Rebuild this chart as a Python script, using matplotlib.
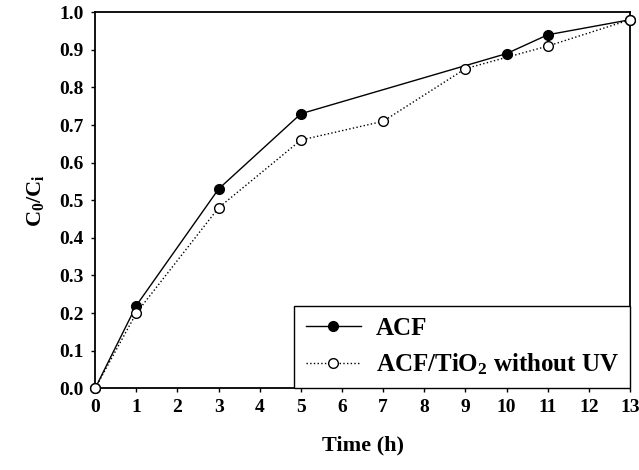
import matplotlib
matplotlib.use("Agg")
import matplotlib.pyplot as plt

plt.rcParams["font.family"] = ["Liberation Serif", "DejaVu Serif"]
plt.rcParams["font.weight"] = "bold"
plt.rcParams["mathtext.fontset"] = "custom"
plt.rcParams["mathtext.rm"] = "Liberation Serif:bold"
plt.rcParams["mathtext.it"] = "Liberation Serif:bold"
plt.rcParams["mathtext.bf"] = "Liberation Serif:bold"

# ACF alone (filled circles)
acf_t = [0, 1, 3, 5, 10, 11, 13]
acf_c = [0.0, 0.22, 0.53, 0.73, 0.89, 0.94, 0.98]
# ACF/TiO2 without UV (open circles)
tio2_t = [0, 1, 3, 5, 7, 9, 11, 13]
tio2_c = [0.0, 0.20, 0.48, 0.66, 0.71, 0.85, 0.91, 0.98]

x_ticks = list(range(0, 14))
y_ticks = [0.0, 0.1, 0.2, 0.3, 0.4, 0.5, 0.6, 0.7, 0.8, 0.9, 1.0]

fig = plt.figure(figsize=(6.39, 4.70), dpi=100)
ax = fig.add_axes([0.149, 0.174, 0.837, 0.80])

ax.plot(acf_t, acf_c, "k-", lw=1.0, marker="o", ms=7, mfc="black",
        mec="black", label="ACF", clip_on=False, zorder=3)
ax.plot(tio2_t, tio2_c, color="black", ls=":", lw=1.0, marker="o", ms=7,
        mfc="white", mec="black", label="ACF/TiO$_2$ without UV",
        clip_on=False, zorder=4)

ax.set_xlim(0, 13)
ax.set_ylim(0, 1.0)
ax.set_xticks(x_ticks)
ax.set_yticks(y_ticks)
ax.set_yticklabels([f"{v:.1f}" for v in y_ticks])
ax.tick_params(direction="out", length=3, width=1, labelsize=14, pad=5)
for lab in ax.get_xticklabels() + ax.get_yticklabels():
    lab.set_fontweight("bold")
for s in ax.spines.values():
    s.set_linewidth(1.3)

ax.set_xlabel("Time (h)", fontsize=16, fontweight="bold", labelpad=14)
ax.set_ylabel("C$_0$/C$_i$", fontsize=16, fontweight="bold", labelpad=10)

leg = ax.legend(loc="lower right", fontsize=18, frameon=True, fancybox=False,
                edgecolor="black", framealpha=1, borderaxespad=0.0,
                handlelength=2.2, handletextpad=0.6, borderpad=0.45,
                labelspacing=0.45)
leg.get_frame().set_linewidth(1.0)
for t in leg.get_texts():
    t.set_fontweight("bold")

fig.savefig("out.png", dpi=100)
